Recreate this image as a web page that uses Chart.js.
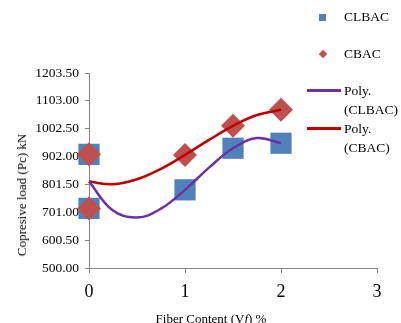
<!DOCTYPE html>
<html>
<head>
<meta charset="utf-8">
<script src="https://cdn.jsdelivr.net/npm/chart.js@4/dist/chart.umd.min.js"></script>
<style>
    html, body { margin: 0; padding: 0; background: #fff; }
    #wrap { position: relative; width: 401px; height: 323px; font-family: "Liberation Serif", "Times New Roman", serif; color: #000; }
    #chart { position: absolute; left: 0; top: 0; }
    .txt { position: absolute; white-space: nowrap; font-size: 13.5px; line-height: 19px; }
    .yTitle { position: absolute; left: 22px; top: 195px; font-size: 13px; white-space: nowrap; transform: translate(-50%, -50%) rotate(-90deg); }
    .xTitle { position: absolute; left: 211px; top: 319px; font-size: 13px; white-space: nowrap; transform: translate(-50%, -50%); }
    .mk { position: absolute; }
</style>
</head>
<body>
<div id="wrap">
    <canvas id="chart" width="401" height="323"></canvas>
    <div class="yTitle">Copresive load (Pc) kN</div>
    <div class="xTitle">Fiber Content (V<i>f</i>) %</div>

    <div class="mk" style="left:319px;top:14px;width:7px;height:7px;background:#4F81BD;"></div>
    <div class="txt" style="left:344px;top:7px;">CLBAC</div>
    <div class="mk" style="left:320px;top:51px;width:6px;height:6px;background:#C0504D;transform:rotate(45deg);"></div>
    <div class="txt" style="left:344px;top:44px;">CBAC</div>
    <div class="mk" style="left:307px;top:89px;width:34px;height:2.5px;background:#7030A0;"></div>
    <div class="txt" style="left:344px;top:81px;">Poly.<br>(CLBAC)</div>
    <div class="mk" style="left:307px;top:127px;width:34px;height:2.5px;background:#C00000;"></div>
    <div class="txt" style="left:344px;top:119px;">Poly.<br>(CBAC)</div>
</div>
<script>
// measured points (fiber content %, load kN)
const fiberX = [0, 0, 1, 1.5, 2];
const clbacLoad = [910, 715, 782, 932, 950];
const cbacLoad = [910, 715, 908, 1013, 1071];

// polynomial trend lines
const trendX = [0, 0.25, 0.5, 0.75, 1, 1.25, 1.5, 1.75, 2];
const clbacTrend = [812, 707, 682, 714, 782, 862, 932, 969, 950];
const cbacTrend = [812, 802, 820, 858, 908, 962, 1013, 1052, 1071];

const yTicks = [500.00, 600.50, 701.00, 801.50, 902.00, 1002.50, 1103.00, 1203.50];
const xTicks = [0, 1, 2, 3];

const axisGray = '#868686';

function toPoints(xs, ys) {
    return xs.map((x, i) => ({ x: x, y: ys[i] }));
}

new Chart(document.getElementById('chart'), {
    type: 'scatter',
    data: {
        datasets: [
            {
                label: 'Poly. (CLBAC)',
                type: 'line',
                data: toPoints(trendX, clbacTrend),
                borderColor: '#7030A0',
                borderWidth: 2.5,
                pointRadius: 0,
                tension: 0.4,
                fill: false,
                clip: false,
                order: 0
            },
            {
                label: 'Poly. (CBAC)',
                type: 'line',
                data: toPoints(trendX, cbacTrend),
                borderColor: '#C00000',
                borderWidth: 2.5,
                pointRadius: 0,
                tension: 0.4,
                fill: false,
                clip: false,
                order: 0
            },
            {
                label: 'CBAC',
                data: toPoints(fiberX, cbacLoad),
                pointStyle: 'rectRot',
                pointRadius: 12,
                backgroundColor: '#C0504D',
                borderColor: '#C0504D',
                borderWidth: 0,
                clip: false,
                order: 1
            },
            {
                label: 'CLBAC',
                data: toPoints(fiberX, clbacLoad),
                pointStyle: 'rect',
                pointRadius: 15,
                backgroundColor: '#4F81BD',
                borderColor: '#4F81BD',
                borderWidth: 0,
                clip: false,
                order: 2
            }
        ]
    },
    options: {
        responsive: false,
        animation: false,
        layout: { padding: { left: 0, top: 73, right: 24, bottom: 0 } },
        plugins: {
            legend: { display: false },
            tooltip: { enabled: false }
        },
        scales: {
            x: {
                type: 'linear',
                min: 0,
                max: 3,
                afterFit: function (scale) { scale.height = 55; },
                afterBuildTicks: function (scale) { scale.ticks = xTicks.map(v => ({ value: v })); },
                ticks: {
                    color: '#000',
                    padding: 8,
                    font: { family: 'Liberation Serif', size: 18 },
                    callback: v => String(v)
                },
                grid: { drawOnChartArea: false, drawTicks: true, tickLength: 5, color: axisGray },
                border: { color: axisGray, width: 1 }
            },
            y: {
                min: 500,
                max: 1203.5,
                afterFit: function (scale) { scale.width = 89; },
                afterBuildTicks: function (scale) { scale.ticks = yTicks.map(v => ({ value: v })); },
                ticks: {
                    color: '#000',
                    padding: 6,
                    font: { family: 'Liberation Serif', size: 13.5 },
                    callback: v => Number(v).toFixed(2)
                },
                grid: { drawOnChartArea: false, drawTicks: true, tickLength: 4, color: axisGray },
                border: { color: axisGray, width: 1 }
            }
        }
    }
});
</script>
</body>
</html>
